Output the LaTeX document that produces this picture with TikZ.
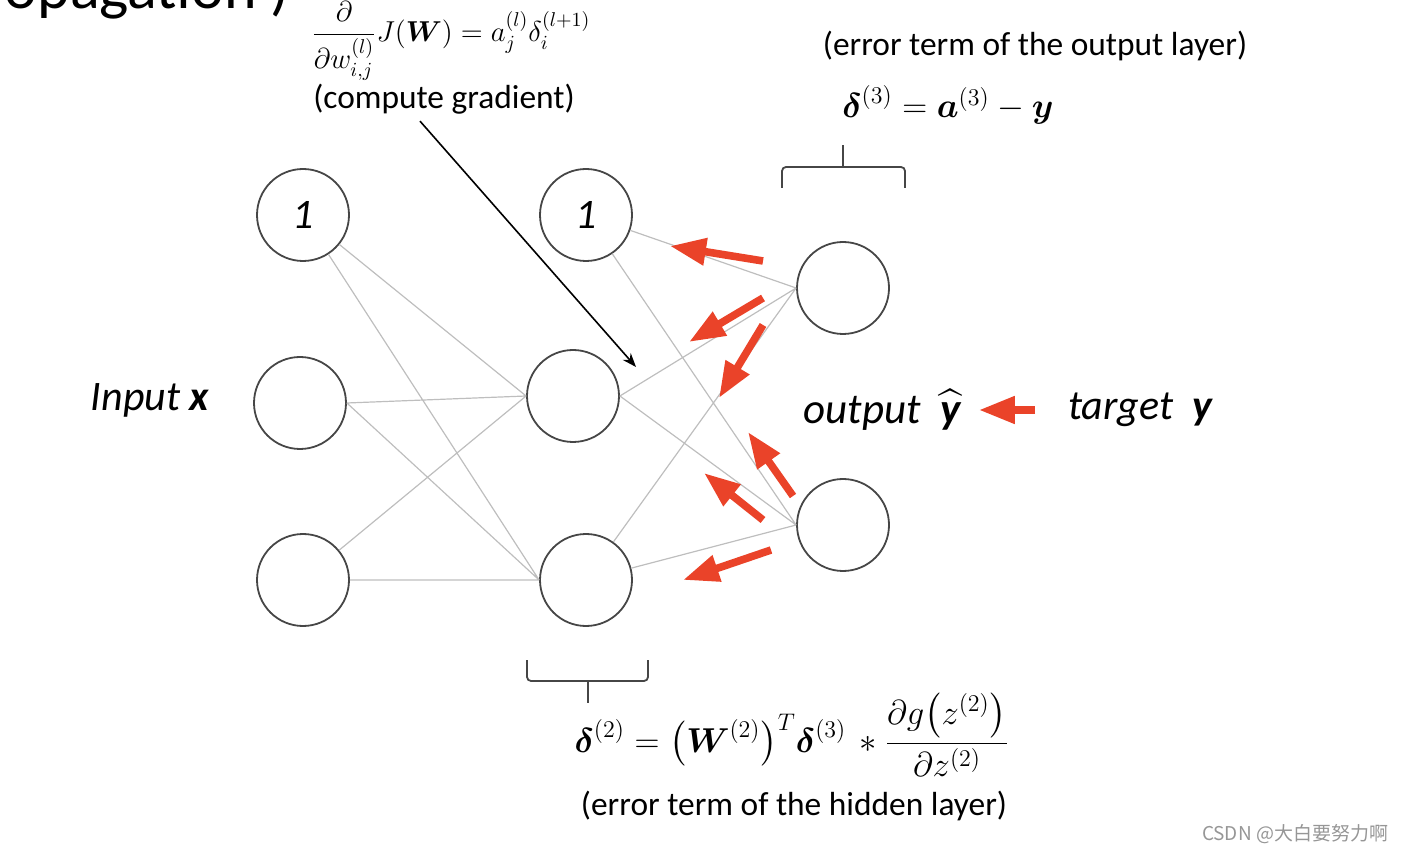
\documentclass[tikz,border=0pt]{standalone}
\usepackage{amsmath, amssymb}
\usepackage{fontspec}
\setmainfont{Carlito}
\newfontfamily\cjk{Noto Sans CJK SC}
\definecolor{errred}{RGB}{234, 67, 41}
\definecolor{wiregray}{RGB}{190, 190, 190}
\definecolor{ringgray}{RGB}{70, 70, 70}
\definecolor{markgray}{RGB}{150, 150, 150}
\usetikzlibrary{arrows.meta, positioning, calc}

\begin{document}
\begin{tikzpicture}[x=0.5pt, y=-0.5pt,
  neuron/.style={draw=ringgray, line width=0.9pt, circle, minimum size=46pt, inner sep=0pt, font=\fontsize{21}{24}\selectfont\itshape},
  wire/.style={draw=wiregray, line width=0.6pt},
  errarrow/.style={-{Triangle[length=18pt, width=13pt]}, line width=3.8pt, errred},
  note/.style={font=\fontsize{16.7}{20}\selectfont}]
  \useasboundingbox (0,0) rectangle (1406,854);

  % Slide title (cut off)
  \node[font=\fontsize{31}{36}\selectfont, anchor=base east, inner sep=0pt] (title) at (290,9) {opagation )};

  % Layers
  \node[neuron] (I0) at (303,215) {1};
  \node[neuron] (I1) at (300,403) {};
  \node[neuron] (I2) at (303,580) {};
  \node[neuron] (H0) at (586,215) {1};
  \node[neuron] (H1) at (573,396) {};
  \node[neuron] (H2) at (586,580) {};
  \node[neuron] (O1) at (843,288) {};
  \node[neuron] (O2) at (843,525) {};

  % Weights
  \draw[wire] (I0) -- (H1.west) (I0) -- (H2.west) (I1.east) -- (H1.west) (I1.east) -- (H2.west) (I2) -- (H1.west) (I2) -- (H2.west);
  \draw[wire] (H0) -- (O1.west) (H0) -- (O2.west) (H1.east) -- (O1.west) (H1.east) -- (O2.west) (H2) -- (O1.west) (H2) -- (O2.west);

  % Labels
  \node[font=\fontsize{21}{24}\selectfont\itshape] (inp) at (150,400) {Input \textbf{x}};
  \node[font=\fontsize{21.5}{24}\selectfont\itshape, inner sep=2pt] (out) at (882,410) {output \ $\widehat{\text{\bfseries y}}$};
  \node[font=\fontsize{21}{24}\selectfont\itshape] (tgt) at (1140,410) {target \ \textbf{y}};

  % Backward error flow
  \coordinate (r1) at (763,261); \coordinate (r1t) at (670,246);
  \coordinate (r2) at (763,298); \coordinate (r2t) at (689,342);
  \coordinate (r3) at (763,325); \coordinate (r3t) at (719,398);
  \coordinate (r4) at (793,496); \coordinate (r4t) at (748,432);
  \coordinate (r5) at (763,520); \coordinate (r5t) at (704,473);
  \coordinate (r6) at (771,550); \coordinate (r6t) at (683,580);
  \draw[errarrow] (r1) -- (r1t);
  \draw[errarrow] (r2) -- (r2t);
  \draw[errarrow] (r3) -- (r3t);
  \draw[errarrow] (r4) -- (r4t);
  \draw[errarrow] (r5) -- (r5t);
  \draw[errarrow] (r6) -- (r6t);
  \draw[errarrow] ([xshift=-13pt]tgt.west) -- ([xshift=7pt]out.east);

  % Gradient
  \node[font=\fontsize{14.5}{17}\selectfont, inner sep=1pt] (gradeq) at (451,41) {$\displaystyle\frac{\partial}{\partial w_{i,j}^{(l)}}J(\boldsymbol{W}) = a_j^{(l)}\delta_i^{(l+1)}$};
  \node[note] (grad) at (444,99) {(compute gradient)};
  \coordinate (gradtip) at (636,367);
  \draw[-{Stealth[length=7pt]}, line width=0.8pt] ([xshift=-12pt]grad.south) -- (gradtip);

  % Output error
  \node[note] (outerr) at (1035,46) {(error term of the output layer)};
  \node[font=\fontsize{18}{21}\selectfont] (outeq) at (948,105) {$\boldsymbol{\delta}^{(3)} = \boldsymbol{a}^{(3)} - \boldsymbol{y}$};
  \draw[ringgray, line width=0.9pt, rounded corners=2pt] (782,188) -- (782,167) -- (905,167) -- (905,188);
  \draw[ringgray, line width=0.9pt] (843,167) -- (843,145);

  % Hidden error
  \draw[ringgray, line width=0.9pt, rounded corners=2pt] (527,660) -- (527,681) -- (648,681) -- (648,660);
  \draw[ringgray, line width=0.9pt] (588,681) -- (588,703);
  \node[font=\fontsize{18.8}{21}\selectfont] (hideq) at (792,735) {$\boldsymbol{\delta}^{(2)} = \bigl(\boldsymbol{W}^{(2)}\bigr)^{T}\boldsymbol{\delta}^{(3)} \, * \displaystyle\frac{\partial g\bigl(z^{(2)}\bigr)}{\partial z^{(2)}}$};
  \node[note] (hiderr) at (794,806) {(error term of the hidden layer)};

  % Watermark
  \node[text=markgray, font=\cjk\fontsize{9.5}{11}\selectfont] (mark) at (1295,834) {CSDN @大白要努力啊};
\end{tikzpicture}
\end{document}
